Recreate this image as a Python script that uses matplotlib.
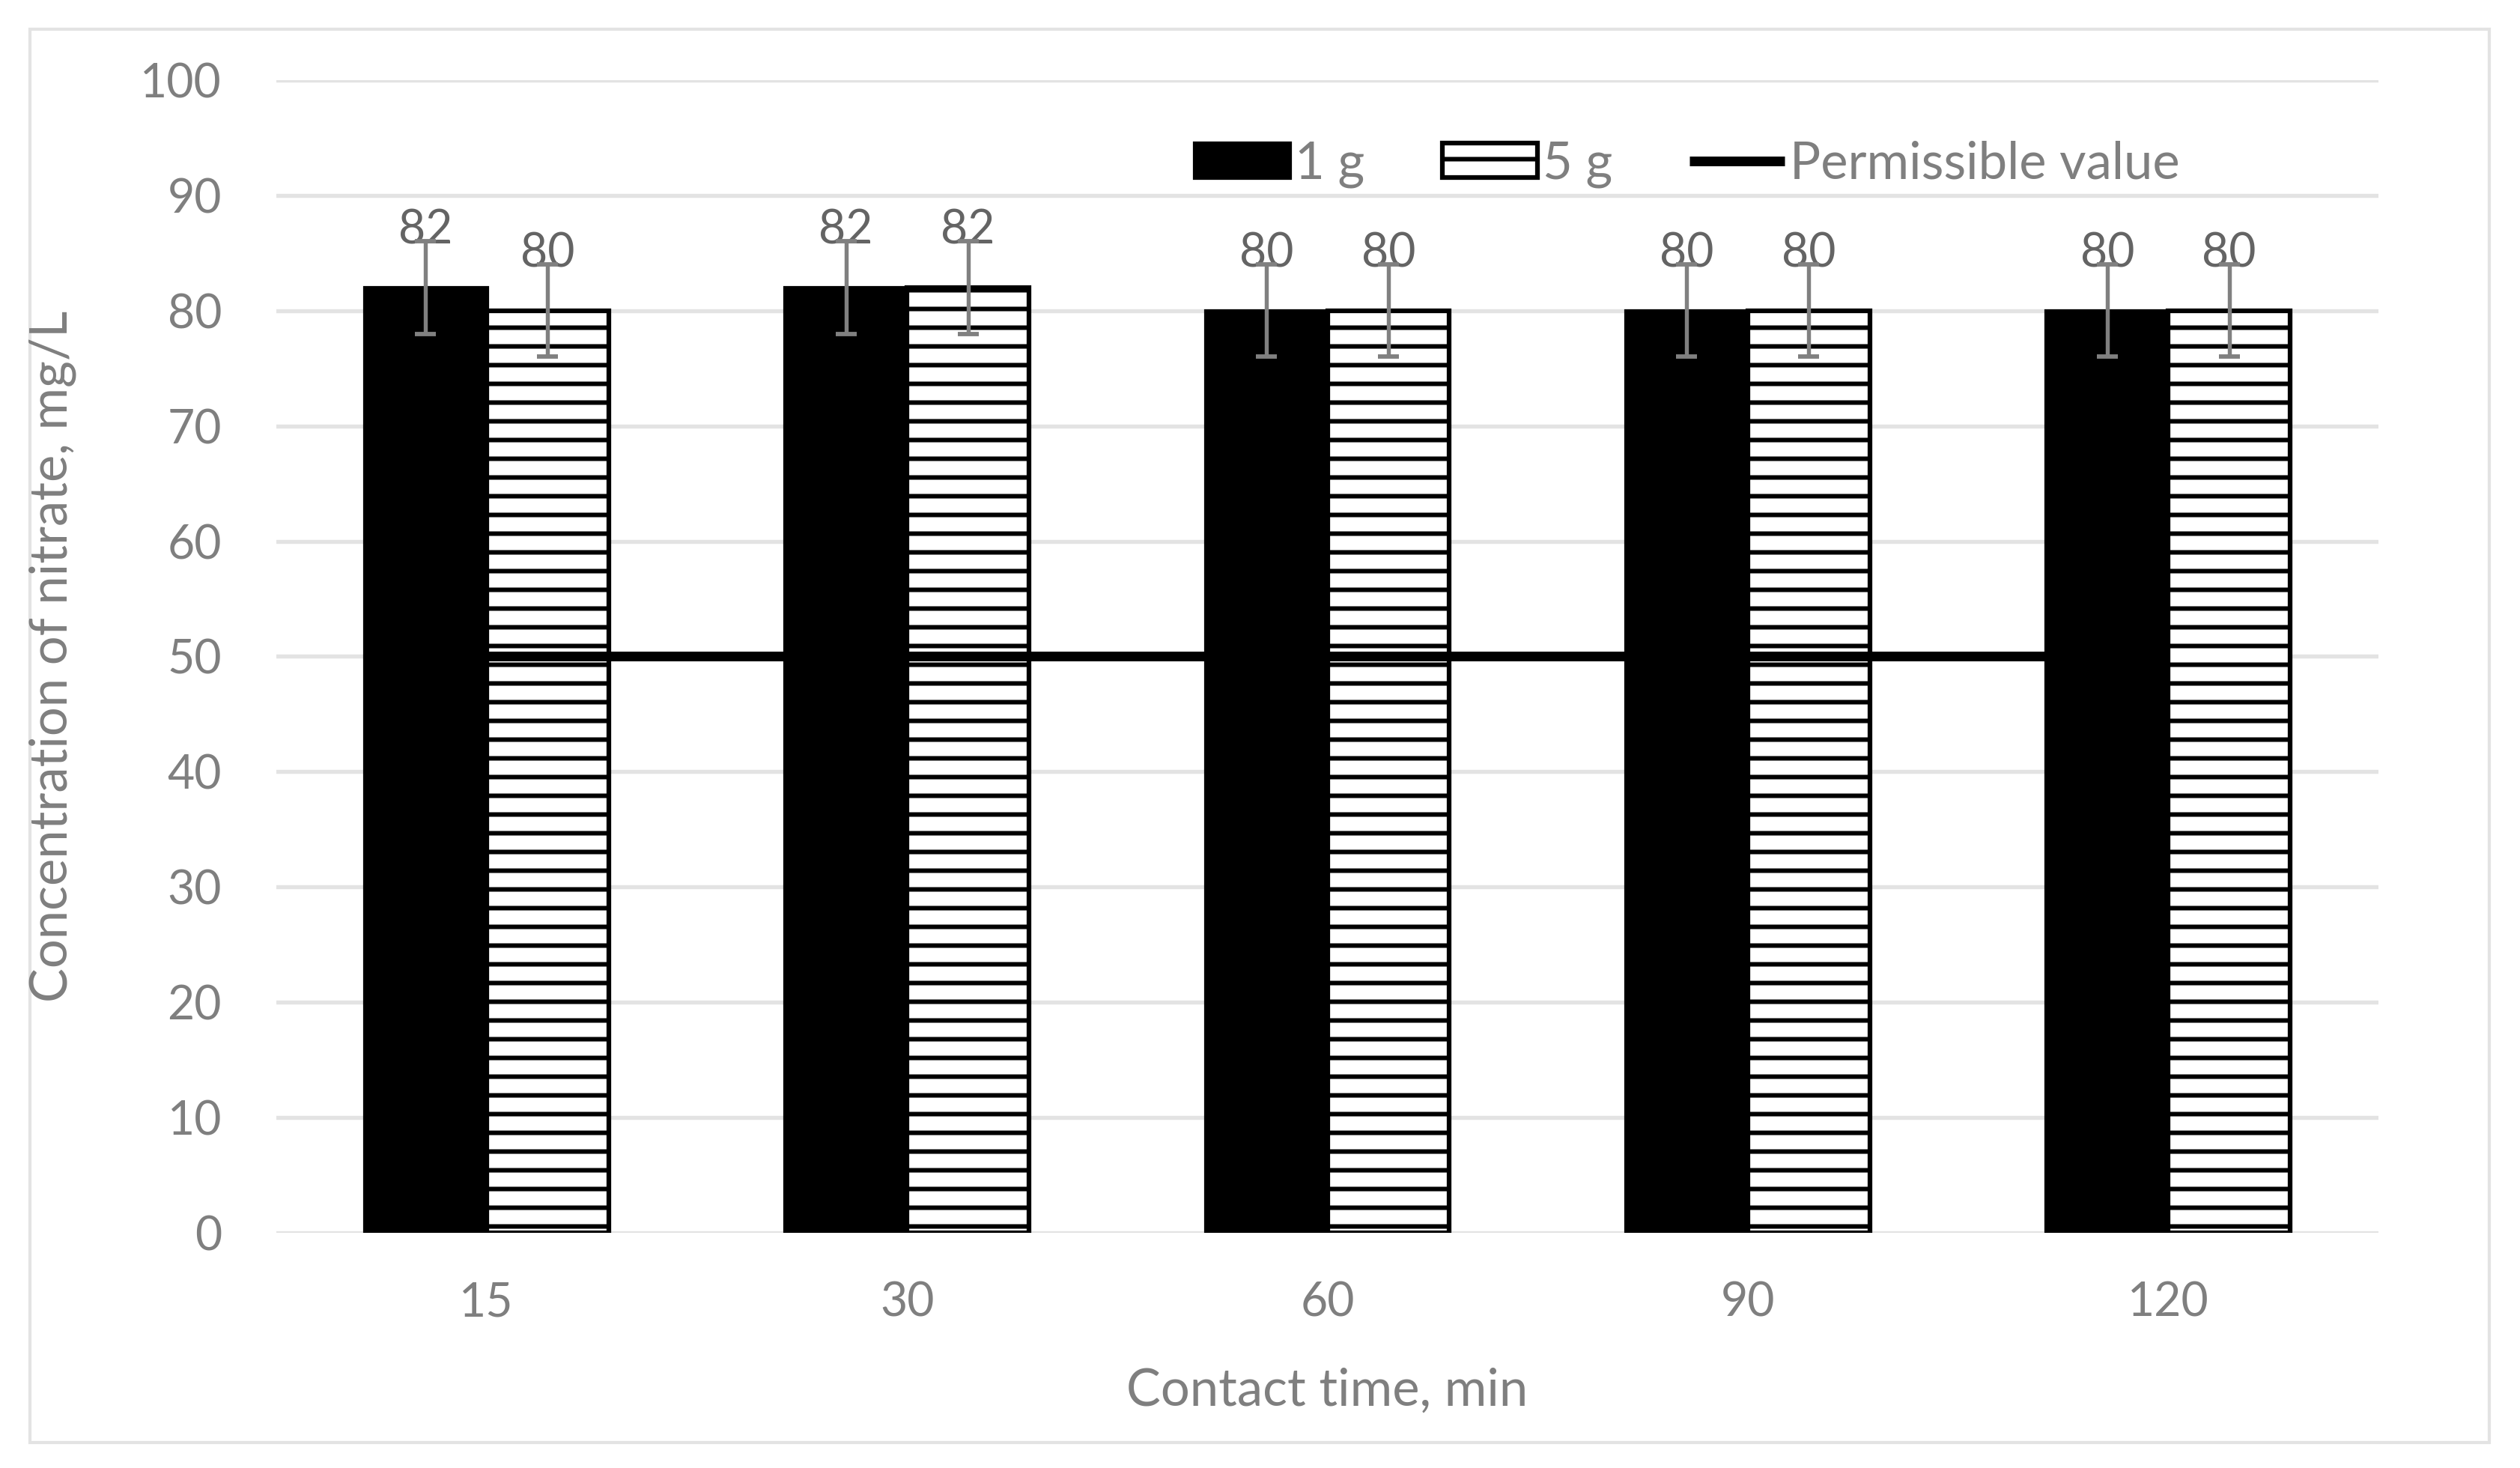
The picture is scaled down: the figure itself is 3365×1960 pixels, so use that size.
import matplotlib
matplotlib.use('Agg')
import matplotlib.pyplot as plt
import numpy as np
from matplotlib.patches import Rectangle

categories = ['15', '30', '60', '90', '120']
values_1g = [82, 82, 80, 80, 80]
values_5g = [80, 82, 80, 80, 80]
err_1g = [4, 4, 4, 4, 4]
err_5g = [4, 4, 4, 4, 4]
permissible = [50, 50, 50, 50, 50]
yticks = list(range(0, 101, 10))

plt.rcParams['font.family'] = ['Lato', 'DejaVu Sans']
plt.rcParams['hatch.linewidth'] = 2.9
plt.rcParams['hatch.color'] = 'black'

DPI = 150
W, H = 3365, 1960
fig = plt.figure(figsize=(W / DPI, H / DPI), dpi=DPI)
fig.patch.set_facecolor('white')

left, right, top, bottom = 369, 3176, 107, 1646
ax = fig.add_axes([left / W, 1 - bottom / H, (right - left) / W, (bottom - top) / H])

FS = 30
FS_T = 33
TXT = '#7F7F7F'
LBL = '#646464'

x = np.arange(len(categories))
w = 0.29
h1 = ax.bar(x - w / 2, values_1g, w, color='black', edgecolor='black', linewidth=2.5,
            label='1 g', zorder=2)
h2 = ax.bar(x + w / 2, values_5g, w, color='white', edgecolor='black', hatch='-',
            linewidth=3.0, label='5 g', zorder=2)
h3, = ax.plot(x, permissible, color='black', lw=6.2, label='Permissible value', zorder=3,
              solid_capstyle='butt')

for xs, vals, errs in [(x - w / 2, values_1g, err_1g), (x + w / 2, values_5g, err_5g)]:
    ax.errorbar(xs, vals, yerr=errs, fmt='none', ecolor='#808080', elinewidth=2.6,
                capsize=6.5, capthick=2.8, zorder=6)
    for xi, v in zip(xs, vals):
        ax.annotate(f'{v}', (xi, v), xytext=(0, 36.5), textcoords='offset points',
                    ha='center', va='center', fontsize=FS, color=LBL, zorder=5)

ax.set_xlim(-0.5, len(categories) - 0.5)
ax.set_ylim(0, 100)
ax.set_yticks(yticks)
ax.set_xticks(x, categories)
ax.yaxis.grid(True, color='#E3E3E3', lw=2.6)
ax.set_axisbelow(True)
for s in ax.spines.values():
    s.set_visible(False)
ax.tick_params(axis='both', length=0, labelsize=FS, labelcolor=TXT)
ax.tick_params(axis='x', pad=31)
ax.tick_params(axis='y', pad=35)

fig.text((left + right) / 2 / W, 1 - 1877 / H, 'Contact time, min', ha='center', va='baseline',
         fontsize=FS_T, color=TXT)
fig.text(70 / W, 1 - (top + bottom) / 2 / H, 'Concentration of nitrate, mg/L', ha='center',
         va='center', rotation=90, fontsize=FS_T, color=TXT)

fig.legend(handles=[h1, h2, h3], loc='center', bbox_to_anchor=(2253 / W, 1 - 219 / H), ncol=3,
           frameon=False, fontsize=FS_T, labelcolor=TXT, handlelength=1.85, handleheight=0.65,
           handletextpad=0.1, columnspacing=1.5)

fig.patches.append(Rectangle((39.5 / W, 1 - 1925.5 / H), (3324 - 39.5) / W, (1925.5 - 38.5) / H,
                             transform=fig.transFigure, fill=False, edgecolor='#E3E3E3',
                             lw=2.0, zorder=0))

fig.savefig('out.png', dpi=DPI)
